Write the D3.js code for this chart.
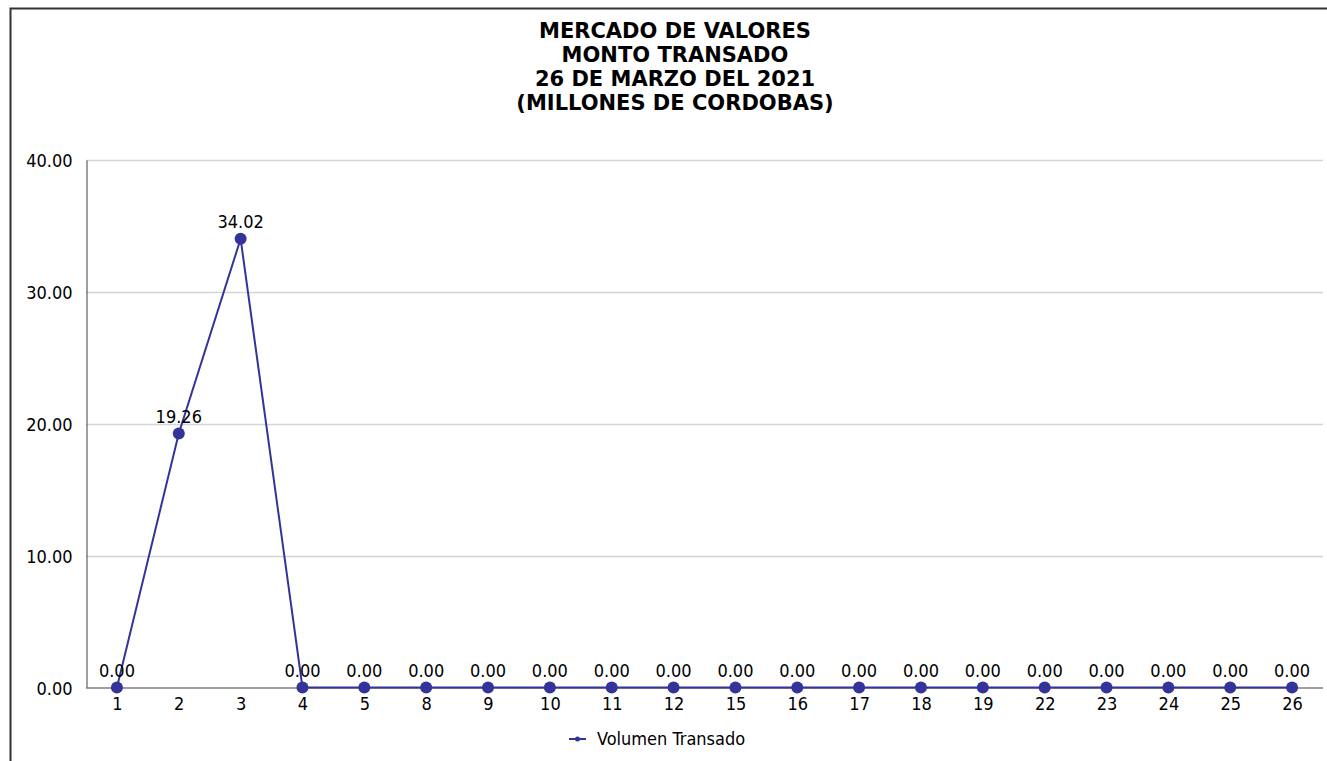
<!DOCTYPE html>
<html><head><meta charset="utf-8">
<script src="https://cdn.jsdelivr.net/npm/d3@7"></script>
<style>
body{margin:0;background:#fff;}
svg{display:block;}
text{font-family:"DejaVu Sans Condensed","DejaVu Sans",sans-serif;font-stretch:condensed;fill:#000;}
text.title{font-family:"DejaVu Sans",sans-serif;font-stretch:normal;}
</style></head>
<body>
<svg id="c" width="1327" height="761"></svg>
<script>
const titleLines = ["MERCADO DE VALORES","MONTO TRANSADO","26 DE MARZO DEL 2021","(MILLONES DE CORDOBAS)"];
const categories = ["1","2","3","4","5","8","9","10","11","12","15","16","17","18","19","22","23","24","25","26"];
const values = [0,19.26,34.02,0,0,0,0,0,0,0,0,0,0,0,0,0,0,0,0,0];
const yTicks = [0,10,20,30,40];
const seriesName = "Volumen Transado";

const svg = d3.select("#c");
const W = 1327, H = 761;
const m = {left:86, right:1323, top:160, bottom:687.5};
const color = "#333399";

// frame
svg.append("path").attr("d", `M10.5,${H} L10.5,8.5 L${W},8.5`).attr("fill","none").attr("stroke","#333").attr("stroke-width",2);

// title
const t = svg.append("text").attr("class","title").attr("text-anchor","middle").attr("font-weight","bold").attr("font-size",21);
titleLines.forEach((s,i)=>t.append("tspan").attr("x",675).attr("y",38+i*24).text(s));

const x = d3.scalePoint().domain(categories).range([m.left,m.right]).padding(0.5);
const y = d3.scaleLinear().domain([0,40]).range([m.bottom,m.top]);

// gridlines
svg.append("g").selectAll("line").data(yTicks.filter(d=>d>0)).join("line")
  .attr("x1",m.left).attr("x2",m.right).attr("y1",d=>Math.round(y(d))+0.5).attr("y2",d=>Math.round(y(d))+0.5)
  .attr("stroke","#d4d4d4").attr("stroke-width",1.3);

// y axis
const ya = svg.append("g").attr("transform",`translate(${m.left+0.5},0)`)
  .call(d3.axisLeft(y).tickValues(yTicks).tickFormat(d3.format(".2f")).tickSize(0).tickPadding(14));
ya.select(".domain").attr("stroke","#404040").attr("stroke-width",1);
ya.selectAll("text").attr("font-size",18).attr("font-family",null).attr("dy","0.38em");

// x axis
const xa = svg.append("g").attr("transform",`translate(0,${m.bottom})`)
  .call(d3.axisBottom(x).tickSize(0).tickPadding(10));
xa.select(".domain").attr("d",`M${m.left},0.5H${m.right}`).attr("stroke","#7f7f7f").attr("stroke-width",1.5);
xa.selectAll("text").attr("font-size",18).attr("font-family",null);

// line
const line = d3.line().x((d,i)=>x(categories[i])).y(d=>y(d));
svg.append("path").datum(values).attr("d",line).attr("fill","none").attr("stroke",color).attr("stroke-width",2);

svg.append("g").selectAll("circle").data(values).join("circle")
  .attr("cx",(d,i)=>x(categories[i])).attr("cy",d=>y(d)).attr("r",6).attr("fill",color);

svg.append("g").selectAll("text").data(values).join("text")
  .attr("x",(d,i)=>x(categories[i])).attr("y",d=>y(d)-11).attr("text-anchor","middle")
  .attr("font-size",18).text(d=>d3.format(".2f")(d));

// legend
const lg = svg.append("g").attr("transform","translate(569,739)");
lg.append("line").attr("x1",0).attr("x2",17).attr("y1",0).attr("y2",0).attr("stroke",color).attr("stroke-width",2);
lg.append("circle").attr("cx",8.5).attr("cy",0).attr("r",2.5).attr("fill",color);
lg.append("text").attr("x",28).attr("y",0).attr("dy","0.36em").attr("font-size",18).text(seriesName);
</script>
</body></html>
